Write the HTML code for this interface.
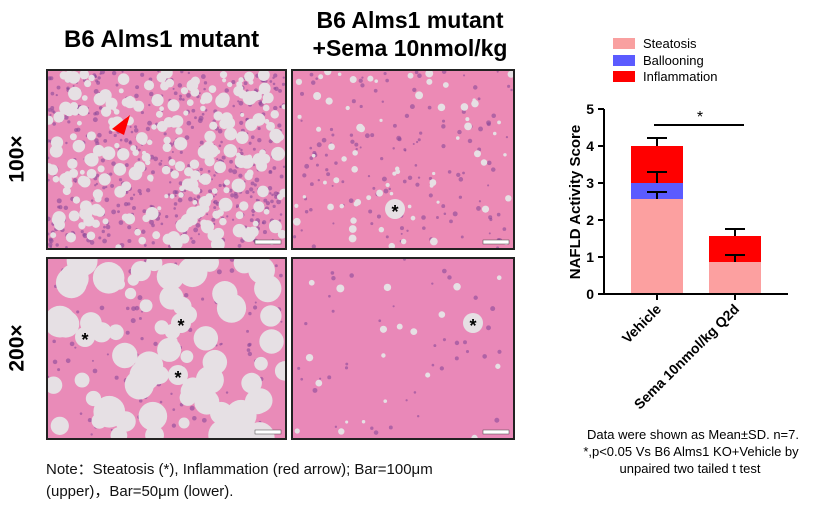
<!DOCTYPE html>
<html><head><meta charset="utf-8"><style>
body{margin:0;width:830px;height:510px;background:#fff;font-family:"Liberation Sans",Arial,sans-serif;position:relative;overflow:hidden}
.t{position:absolute;font-weight:bold;color:#000}
.p{position:absolute;border:2px solid #222;background:#e98bb8;overflow:hidden}
.p svg{position:absolute;left:0;top:0}
</style></head><body>
<div class="t" style="left:64px;top:26px;font-size:24px">B6 Alms1 mutant</div>
<div class="t" style="left:300px;top:6px;font-size:23px;text-align:center;width:220px;line-height:28px">B6 Alms1 mutant<br>+Sema 10nmol/kg</div>
<div class="t" style="left:-6px;top:147px;font-size:21px;transform:rotate(-90deg)">100×</div>
<div class="t" style="left:-6px;top:336px;font-size:21px;transform:rotate(-90deg)">200×</div>
<div class="p" id="a" style="left:46px;top:69px;width:237px;height:177px"></div>
<div class="p" id="b" style="left:291px;top:69px;width:220px;height:177px;background:#ec8ab5"></div>
<div class="p" id="c" style="left:46px;top:257px;width:237px;height:179px"></div>
<div class="p" id="d" style="left:291px;top:257px;width:220px;height:179px;background:#e988b8"></div>
<div style="position:absolute;left:46px;top:459px;font-size:15px;line-height:22px;color:#111">Note：Steatosis (*), Inflammation (red arrow); Bar=100μm<br>(upper)，Bar=50μm (lower).</div>
<svg style="position:absolute;left:0;top:0" width="830" height="510">
<g font-size="13" fill="#000">
<rect x="613" y="38" width="22" height="11" fill="#f9a0a0"/><text x="643" y="48">Steatosis</text>
<rect x="613" y="55" width="22" height="11" fill="#5b5bff"/><text x="643" y="65">Ballooning</text>
<rect x="613" y="71" width="22" height="11" fill="#ff0000"/><text x="643" y="81">Inflammation</text>
</g>
<rect x="631" y="199" width="52" height="95" fill="#fca0a0"/>
<rect x="631" y="183" width="52" height="16" fill="#5b5bff"/>
<rect x="631" y="146" width="52" height="37" fill="#ff0000"/>
<rect x="709" y="262" width="52" height="32" fill="#fca0a0"/>
<rect x="709" y="236" width="52" height="26" fill="#ff0000"/>
<g stroke="#000" stroke-width="2" fill="none">
<path d="M604 109V294H788"/>
<path d="M598 109h6M598 146h6M598 183h6M598 220h6M598 257h6M598 294h6"/>
<path d="M657 294v6M735 294v6"/>
<path d="M657 146v-8M647 138h20M657 183v-11M647 172h20M657 199v-7M647 192h20M735 236v-7M725 229h20M735 262v-7M725 255h20"/>
<path d="M654 125h90"/>
</g>
<text x="700" y="122" font-size="16" text-anchor="middle">*</text>
<g font-size="14" text-anchor="end" font-weight="bold">
<text x="594" y="114">5</text><text x="594" y="151">4</text><text x="594" y="188">3</text><text x="594" y="225">2</text><text x="594" y="262">1</text><text x="594" y="299">0</text>
</g>
<text transform="translate(580,202) rotate(-90)" font-size="15" font-weight="bold" text-anchor="middle">NAFLD Activity Score</text>
<text transform="translate(662,310) rotate(-45)" font-size="14" font-weight="bold" text-anchor="end">Vehicle</text>
<text transform="translate(740,310) rotate(-45)" font-size="14" font-weight="bold" text-anchor="end">Sema 10nmol/kg Q2d</text>
<g font-size="13" text-anchor="middle">
<text x="693" y="439">Data were shown as Mean±SD. n=7.</text>
<text x="691" y="456">*,p&lt;0.05 Vs B6 Alms1 KO+Vehicle by</text>
<text x="690" y="473">unpaired two tailed t test</text>
</g>
</svg>
<script>
var seed=7;function r(){seed=(seed*16807)%2147483647;return seed/2147483647;}
function fill(id,w,h,n,rmin,rmax,stars,arrow){
 var s='<svg width="'+w+'" height="'+h+'">';
 for(var i=0;i<n*2;i++){s+='<circle cx="'+(r()*w)+'" cy="'+(r()*h)+'" r="'+(1+r()*1.5)+'" fill="#8a4a9a" opacity="0.6"/>';}
 for(var i=0;i<n;i++){s+='<circle cx="'+(r()*w)+'" cy="'+(r()*h)+'" r="'+(rmin+r()*(rmax-rmin))+'" fill="#e6e0e4"/>';}
 (stars||[]).forEach(function(p){s+='<circle cx="'+p[0]+'" cy="'+p[1]+'" r="10" fill="#e6e0e4"/><text x="'+p[0]+'" y="'+(p[1]+9)+'" font-size="18" font-weight="bold" text-anchor="middle" font-family="Liberation Sans">*</text>';});
 if(arrow)s+='<polygon points="64,58 82,44 76,64" fill="#ff0000"/>';
 s+='<rect x="'+(w-30)+'" y="'+(h-8)+'" width="26" height="4" fill="#fff" stroke="#444" stroke-width="0.5"/></svg>';
 document.getElementById(id).innerHTML=s;
}
fill('a',237,177,260,2,7,[],1);
fill('b',220,177,70,1.5,4,[[102,138]]);
fill('c',237,179,70,5,16,[[37,78],[133,64],[130,116]]);
fill('d',220,179,20,1.5,4,[[180,64]]);
</script>
</body></html>
